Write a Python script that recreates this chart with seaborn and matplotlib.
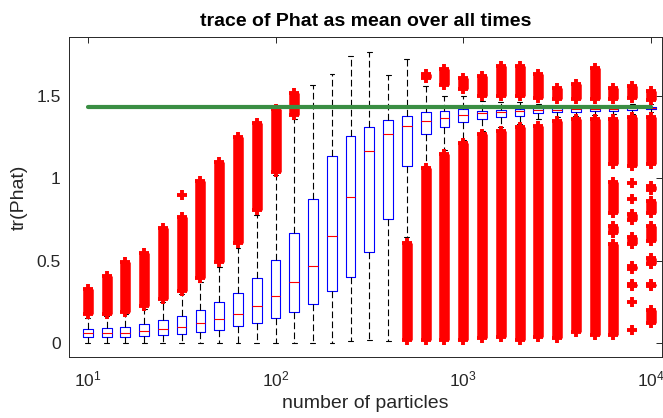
import numpy as np
import pandas as pd
import matplotlib
matplotlib.use("Agg")
import matplotlib.pyplot as plt
import seaborn as sns
from matplotlib.ticker import NullLocator

# ---------------- data ----------------
n_particles = [10, 12.6, 15.8, 20.0, 25.1, 31.6, 39.8, 50.1, 63.1, 79.4,
               100, 126, 158, 200, 251, 316, 398, 501, 631, 794,
               1000, 1259, 1585, 1995, 2512, 3162, 3981, 5012, 6310, 7943, 10000]
whisker_lo = [0, 0, 0, 0, 0, 0, 0, 0, 0, 0,
              0, 0, 0, 0, 0.014, 0.02, 0.014, 0.645, 1.075, 1.17,
              1.23, 1.29, 1.31, 1.33, 1.36, 1.37, 1.38, 1.385, 1.39, 1.39, 1.40]
q1 = [0.036, 0.036, 0.040, 0.046, 0.048, 0.059, 0.069, 0.083, 0.103, 0.125,
      0.152, 0.192, 0.236, 0.317, 0.404, 0.552, 0.752, 1.077, 1.267, 1.309,
      1.341, 1.358, 1.372, 1.380, 1.394, 1.400, 1.404, 1.408, 1.410, 1.414, 1.418]
median = [0.061, 0.061, 0.065, 0.073, 0.087, 0.101, 0.121, 0.149, 0.180, 0.228,
          0.285, 0.370, 0.469, 0.653, 0.887, 1.168, 1.271, 1.317, 1.350, 1.368,
          1.386, 1.394, 1.404, 1.410, 1.412, 1.416, 1.418, 1.418, 1.420, 1.424, 1.426]
q3 = [0.089, 0.093, 0.097, 0.115, 0.139, 0.166, 0.200, 0.248, 0.303, 0.398,
      0.505, 0.669, 0.873, 1.137, 1.257, 1.313, 1.354, 1.378, 1.400, 1.410,
      1.420, 1.410, 1.416, 1.420, 1.424, 1.424, 1.424, 1.428, 1.428, 1.434, 1.434]
whisker_hi = [0.155, 0.165, 0.18, 0.21, 0.25, 0.30, 0.37, 0.46, 0.58, 0.78,
              1.02, 1.36, 1.566, 1.632, 1.743, 1.768, 1.626, 1.723, 1.56, 1.50,
              1.50, 1.47, 1.46, 1.46, 1.45, 1.44, 1.44, 1.445, 1.445, 1.45, 1.45]

# outlier runs: box index, lowest and highest outlier value of the run
out_box = [0, 1, 2, 3, 4, 5, 5, 6, 7, 8, 9, 10, 11,
           17,
           18, 18, 19, 19, 20, 20, 21, 21, 22, 22, 23, 23, 24, 24, 25, 25, 26, 26, 27, 27,
           28, 28, 28, 28, 28,
           29, 29, 29, 29, 29, 29, 29, 29, 29, 29,
           30, 30, 30, 30, 30, 30, 30, 30]
out_lo = [0.175, 0.18, 0.19, 0.225, 0.267, 0.318, 0.90, 0.393, 0.49, 0.61, 0.81, 1.04, 1.385,
          0.02,
          1.61, 0.02, 1.565, 0.02, 1.54, 0.02, 1.50, 0.03, 1.50, 0.04, 1.50, 0.02,
          1.49, 0.04, 1.48, 0.03, 1.48, 0.07, 1.48, 0.05,
          1.48, 1.085, 0.79, 0.67, 0.05,
          1.49, 1.075, 0.97, 0.873, 0.75, 0.60, 0.45, 0.345, 0.253, 0.08,
          1.475, 1.085, 0.93, 0.79, 0.62, 0.48, 0.345, 0.125]
out_hi = [0.33, 0.41, 0.49, 0.545, 0.70, 0.763, 0.90, 0.985, 1.10, 1.25, 1.335, 1.42, 1.515,
          0.61,
          1.635, 1.06, 1.66, 1.15, 1.61, 1.215, 1.62, 1.27, 1.68, 1.29, 1.68, 1.31,
          1.63, 1.32, 1.55, 1.345, 1.57, 1.36, 1.67, 1.36,
          1.55, 1.36, 0.975, 0.71, 0.605,
          1.56, 1.37, 0.97, 0.873, 0.785, 0.645, 0.47, 0.36, 0.253, 0.08,
          1.53, 1.37, 0.955, 0.865, 0.71, 0.52, 0.36, 0.20]

true_trace = 1.434
ref_n = [10, 10000]

# ---------------- style ----------------
sns.set_theme(style="white")
plt.rcParams['font.family'] = ['Liberation Sans', 'DejaVu Sans']
plt.rcParams['mathtext.fontset'] = 'custom'
plt.rcParams['mathtext.rm'] = 'Liberation Sans'
plt.rcParams['mathtext.it'] = 'Liberation Sans:italic'
plt.rcParams['mathtext.bf'] = 'Liberation Sans:bold'

rows = []
for i, n in enumerate(n_particles):
    for v in (whisker_lo[i], q1[i], median[i], q3[i], whisker_hi[i]):
        rows.append((n, v))
df = pd.DataFrame(rows, columns=['n', 'trace'])

fig = plt.figure(figsize=(6.63, 4.18), dpi=100)
ax = fig.add_axes([0.1041, 0.1459, 0.8937, 0.7648])

sns.boxplot(data=df, x='n', y='trace', native_scale=True, log_scale=(True, False),
            fill=False, color='blue', width=0.53, linewidth=0.8, showfliers=False,
            whis=1.5,
            medianprops=dict(color='red', linewidth=0.8),
            whiskerprops=dict(color='black', linestyle=(0, (6, 3)), linewidth=0.8),
            capprops=dict(color='black', linewidth=0.8),
            ax=ax)

red = '#ff0000'
for b, lo, hi in zip(out_box, out_lo, out_hi):
    x = n_particles[b]
    if hi > lo:
        ax.plot([x, x], [lo, hi], color=red, lw=7.6, solid_capstyle='butt', zorder=3)
        ax.plot([x, x], [lo, hi], ls='none', marker='+', ms=7.6, mew=2.8, color=red, zorder=3)
    else:
        ax.plot([x], [lo], ls='none', marker='+', ms=7.6, mew=2.8, color=red, zorder=3)

sns.lineplot(x=ref_n, y=[true_trace, true_trace], color='#3a8e43', linewidth=3.0,
             ax=ax, zorder=10)

ax.set_xlim(10 ** 0.9, 10 ** 4.056)
ax.set_ylim(-0.083, 1.855)
ax.set_xticks([10, 100, 1000, 10000])
ax.set_xticklabels([r'$\mathrm{10^{1}}$', r'$\mathrm{10^{2}}$',
                    r'$\mathrm{10^{3}}$', r'$\mathrm{10^{4}}$'])
ax.xaxis.set_minor_locator(NullLocator())
ax.set_yticks([0, 0.5, 1, 1.5])
ax.set_yticklabels(['0', '0.5', '1', '1.5'])

txt = '#262626'
for s in ax.spines.values():
    s.set_visible(True)
    s.set_color(txt)
    s.set_linewidth(0.7)
ax.tick_params(direction='in', top=True, right=True, length=4, width=0.7,
               colors=txt, labelsize=12.5, pad=6)
ax.tick_params(axis='x', pad=9)

ax.set_title('trace of Phat as mean over all times', fontsize=14, fontweight='bold',
             pad=8, color='black')
ax.set_xlabel('number of particles', fontsize=14, color=txt, labelpad=4)
ax.set_ylabel('tr(Phat)', fontsize=14, color=txt, labelpad=6)

fig.savefig('out.png', dpi=100)
